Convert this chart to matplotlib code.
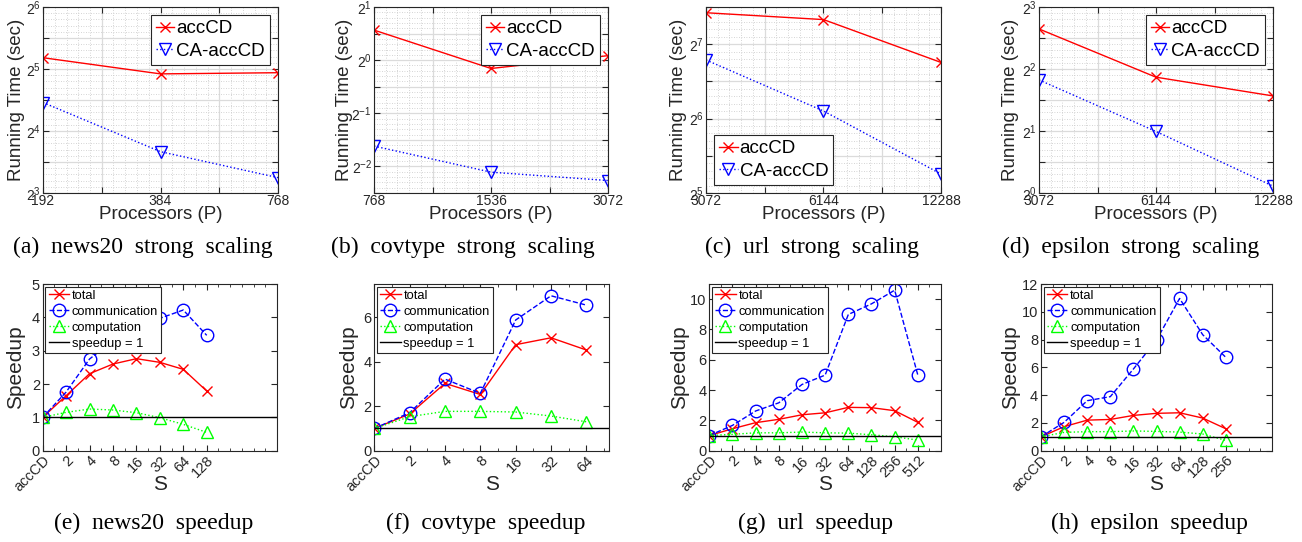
import numpy as np
import matplotlib
matplotlib.use('Agg')
import matplotlib.pyplot as plt
from matplotlib.ticker import FixedLocator, FuncFormatter, NullFormatter

plt.rcParams['font.family'] = ['Liberation Sans', 'DejaVu Sans']
plt.rcParams['mathtext.fontset'] = 'custom'
plt.rcParams['mathtext.rm'] = 'Liberation Sans'

# ---------------- data: strong scaling (running time, sec) ----------------
news20_P = [192, 384, 768]
news20_accCD = [36.3, 30.3, 30.7]
news20_CA = [22.0, 12.7, 9.5]

covtype_P = [768, 1536, 3072]
covtype_accCD = [1.48, 0.897, 1.06]
covtype_CA = [0.326, 0.232, 0.208]

url_P = [3072, 6144, 12288]
url_accCD = [171.6, 161.0, 108.0]
url_CA = [110.5, 68.7, 38.2]

epsilon_P = [3072, 6144, 12288]
epsilon_accCD = [6.26, 3.65, 2.96]
epsilon_CA = [3.54, 1.99, 1.08]

# ---------------- data: speedup vs s ----------------
news20_s = ['accCD', '2', '4', '8', '16', '32', '64', '128']
news20_total = [1.0, 1.65, 2.31, 2.60, 2.76, 2.65, 2.44, 1.79]
news20_comm = [1.0, 1.76, 2.75, 3.30, 3.65, 3.97, 4.22, 3.46]
news20_comp = [1.0, 1.15, 1.25, 1.22, 1.14, 0.99, 0.79, 0.55]

covtype_s = ['accCD', '2', '4', '8', '16', '32', '64']
covtype_total = [1.0, 1.65, 3.03, 2.53, 4.77, 5.08, 4.53]
covtype_comm = [1.0, 1.71, 3.22, 2.58, 5.88, 6.97, 6.55]
covtype_comp = [1.0, 1.53, 1.77, 1.77, 1.74, 1.56, 1.30]

url_s = ['accCD', '2', '4', '8', '16', '32', '64', '128', '256', '512']
url_total = [1.0, 1.45, 1.85, 2.07, 2.37, 2.50, 2.86, 2.84, 2.64, 1.87]
url_comm = [1.0, 1.67, 2.62, 3.16, 4.37, 4.99, 8.99, 9.69, 10.59, 4.99]
url_comp = [1.0, 1.08, 1.18, 1.18, 1.23, 1.18, 1.16, 1.05, 0.92, 0.70]

epsilon_s = ['accCD', '2', '4', '8', '16', '32', '64', '128', '256']
epsilon_total = [1.0, 1.73, 2.20, 2.25, 2.54, 2.69, 2.73, 2.35, 1.58]
epsilon_comm = [1.0, 2.04, 3.60, 3.89, 5.88, 7.96, 10.96, 8.35, 6.72]
epsilon_comp = [1.0, 1.32, 1.37, 1.37, 1.42, 1.39, 1.34, 1.20, 0.74]

# ---------------- figure ----------------
W, H = 1302, 542
fig = plt.figure(figsize=(W / 100, H / 100), dpi=100)
AXC = (0.15, 0.15, 0.15)


def rect(l, r, t, b):
    return [l / W, 1 - b / H, (r - l) / W, (b - t) / H]


def style_axes(ax):
    for s in ax.spines.values():
        s.set_color(AXC)
        s.set_linewidth(0.8)
    ax.tick_params(which='both', direction='in', top=True, right=True,
                   colors=AXC, labelcolor=AXC)


def scaling(px, P, acc, ca, ylo, yhi, legloc, ylab_x, caption, cap_x):
    ax = fig.add_axes(rect(*px))
    ax.set_xscale('log', base=2)
    ax.set_yscale('log', base=2)
    ax.set_axisbelow(True)
    ax.plot(P, acc, color='red', marker='x', ms=7, mew=1, lw=1, label='accCD')
    ax.plot(P, ca, color='blue', ls=':', marker='v', ms=9, mfc='none', mew=1,
            lw=1, label='CA-accCD')
    ax.set_xlim(P[0], P[-1])
    ax.set_ylim(2.0 ** ylo, 2.0 ** yhi)
    nx = int(round(2 * np.log2(P[-1] / P[0])))
    xt = [P[0] * 2 ** (k / 2) for k in range(nx + 1)]
    ax.xaxis.set_major_locator(FixedLocator(xt))
    ax.xaxis.set_major_formatter(FuncFormatter(
        lambda v, p: f'{int(round(v))}' if any(abs(v - q) < 1e-6 * q for q in P) else ''))
    ax.xaxis.set_minor_locator(FixedLocator([P[0] * 2 ** (k / 10) for k in range(5 * nx + 1)]))
    ax.xaxis.set_minor_formatter(NullFormatter())
    yt = np.arange(ylo, yhi + 1e-9, 0.5)
    ax.yaxis.set_major_locator(FixedLocator(2.0 ** yt))

    def yfmt(v, p):
        k = np.log2(v)
        if abs(k - round(k)) < 1e-6:
            return r'$\mathregular{2^{%d}}$' % int(round(k))
        return ''
    ax.yaxis.set_major_formatter(FuncFormatter(yfmt))
    ym = np.arange(ylo, yhi + 1e-9, 0.1)
    ax.yaxis.set_minor_locator(FixedLocator(2.0 ** ym))
    ax.yaxis.set_minor_formatter(NullFormatter())
    ax.grid(True, which='major', color=(0.86, 0.86, 0.86), lw=0.9, ls='-')
    ax.grid(True, which='minor', color=(0.78, 0.78, 0.78), lw=0.6, ls=(0, (1, 2)))
    style_axes(ax)
    ax.tick_params(which='major', length=4, labelsize=10, pad=1.5)
    ax.tick_params(axis='x', which='major', pad=0.5)
    ax.tick_params(which='minor', length=0)
    ax.set_xlabel('Processors (P)', fontsize=13.5, color=AXC)
    ax.xaxis.set_label_coords(0.5, -0.068)
    ax.set_ylabel('Running Time (sec)', fontsize=13.5, color=AXC)
    ax.yaxis.set_label_coords(ylab_x, 0.5)
    leg = ax.legend(loc=legloc, fontsize=13.5, handlelength=1.0, handletextpad=0.1,
                    borderpad=0.25, labelspacing=0.3, borderaxespad=0.45,
                    fancybox=False, framealpha=1, edgecolor=AXC)
    leg.get_frame().set_linewidth(0.8)
    fig.text(cap_x / W, 1 - 247 / H, caption, family='Liberation Serif',
             fontsize=17, ha='center', va='center')
    return ax


def speedup(px, labels, total, comm, comp, ymax, ystep, xmax, ylab_x, caption, cap_x):
    ax = fig.add_axes(rect(*px))
    x = np.arange(1, len(labels) + 1)
    ax.plot(x, total, color='red', marker='x', ms=7, mew=1, lw=1, label='total')
    ax.plot(x, comm, color='blue', ls='--', marker='o', ms=9, mfc='none', mew=1,
            lw=1, label='communication')
    ax.plot(x, comp, color=(0, 1, 0), ls=':', marker='^', ms=9, mfc='none', mew=1,
            lw=1, label='computation')
    ax.axhline(1, color='black', lw=1, label='speedup = 1')
    ax.set_xlim(1, xmax)
    ax.set_ylim(0, ymax)
    ax.set_yticks(np.arange(0, ymax + 1e-9, ystep))
    ax.set_xticks(x)
    ax.set_xticklabels(labels, rotation=45, ha='right', va='top', rotation_mode='anchor')
    ax.xaxis.set_minor_locator(FixedLocator(np.arange(1, xmax + 1e-9, 0.5)))
    style_axes(ax)
    ax.tick_params(which='major', length=4, labelsize=10.5, pad=2)
    ax.tick_params(which='minor', length=2)
    ax.set_xlabel('S', fontsize=15, color=AXC)
    ax.xaxis.set_label_coords(0.5, -0.145)
    ax.set_ylabel('Speedup', fontsize=15, color=AXC)
    ax.yaxis.set_label_coords(ylab_x, 0.5)
    leg = ax.legend(loc='upper left', fontsize=9.3, handlelength=1.6, handletextpad=0.2,
                    borderpad=0.25, labelspacing=0.3, borderaxespad=0.2,
                    fancybox=False, framealpha=1, edgecolor=AXC)
    leg.get_frame().set_linewidth(0.8)
    fig.text(cap_x / W, 1 - 523 / H, caption, family='Liberation Serif',
             fontsize=17, ha='center', va='center')
    return ax


scaling((43, 278, 7, 193), news20_P, news20_accCD, news20_CA, 3, 6, 'upper right',
        -0.077, '(a)  news20  strong  scaling', 143)
scaling((374, 608, 7, 193), covtype_P, covtype_accCD, covtype_CA, -2.5, 1, 'upper right',
        -0.088, '(b)  covtype  strong  scaling', 463)
scaling((706, 941, 7, 193), url_P, url_accCD, url_CA, 5, 7.5, 'lower left',
        -0.08, '(c)  url  strong  scaling', 812)
scaling((1039, 1273, 7, 193), epsilon_P, epsilon_accCD, epsilon_CA, 0, 3, 'upper right',
        -0.085, '(d)  epsilon  strong  scaling', 1131)

speedup((42.7, 277, 284, 450.7), news20_s, news20_total, news20_comm, news20_comp,
        5, 1, 11, -0.075, '(e)  news20  speedup', 154)
speedup((374.3, 609, 284, 450.7), covtype_s, covtype_total, covtype_comm, covtype_comp,
        7.5, 2, 7.64, -0.068, '(f)  covtype  speedup', 486)
speedup((709.3, 941, 284, 450.7), url_s, url_total, url_comm, url_comp,
        11, 2, 11, -0.086, '(g)  url  speedup', 816)
speedup((1041, 1272, 284, 450.7), epsilon_s, epsilon_total, epsilon_comm, epsilon_comp,
        12, 2, 11, -0.091, '(h)  epsilon  speedup', 1149)

fig.savefig('out.png', dpi=100)
